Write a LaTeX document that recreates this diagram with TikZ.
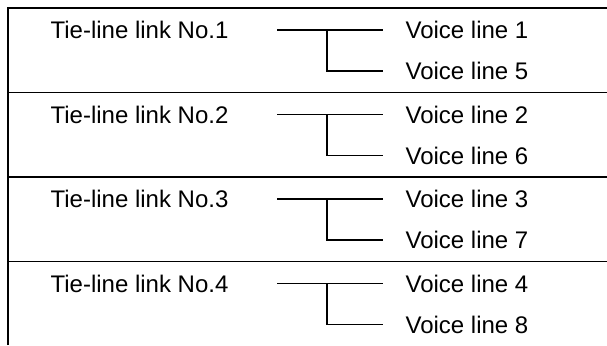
\documentclass[tikz,border=0pt]{standalone}
\usepackage{fontspec}
\setmainfont{Liberation Sans}
\begin{document}
\begin{tikzpicture}[x=1pt,y=-1pt,line width=1.2pt,
  lbl/.style={anchor=base west,inner sep=0pt,font=\fontsize{24}{28}\selectfont},
  rule/.style={line width=1.1pt},
  conn/.style={line width=1.2pt}]
\useasboundingbox (0,0) rectangle (607,345);
\coordinate (frameTop) at (8,8);
\coordinate (frameBot) at (8,345);
\draw[rule] (frameBot) -- (frameTop) -- (607,8);
\foreach \i/\t/\a/\b in {1/8/1/5,2/92.5/2/6,3/177/3/7,4/261.5/4/8}{
  \ifnum\i>1
    \coordinate (sepL\i) at (8,\t);
    \coordinate (sepR\i) at (607,\t);
    \draw[rule] (sepL\i) -- (sepR\i);
  \fi
  \node[lbl] (tie\i) at (50,\t+30.5) {Tie-line link No.\i};
  \node[lbl] (va\i) at (405,\t+30.5) {Voice line \a};
  \node[lbl] (vb\i) at (405,\t+71.5) {Voice line \b};
  \coordinate (s\i) at (277,\t+22);
  \coordinate (j\i) at (327,\t+22);
  \draw[conn] (s\i) -- ([xshift=-22pt,yshift=8.5pt]va\i.base west);
  \draw[conn] (j\i) |- ([xshift=-22pt,yshift=8.5pt]vb\i.base west);
}
\end{tikzpicture}
\end{document}
